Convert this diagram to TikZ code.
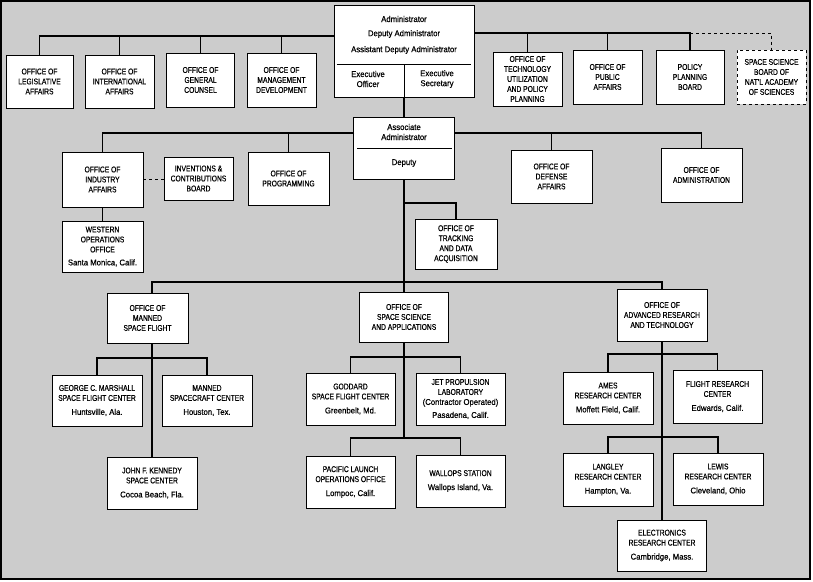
\documentclass[tikz,border=0pt]{standalone}
\usepackage{fontspec}
\setmainfont[FakeStretch=0.8, FakeBold=0.5]{Liberation Sans}
\newfontfamily\placefont[FakeStretch=0.92, FakeBold=0.5]{Liberation Sans}
\definecolor{chartgray}{gray}{0.8}
\tikzset{
  office/.style={draw, fill=white, line width=0.7pt, align=center, inner sep=1pt},
  boxsize/.style 2 args={minimum width=#1, minimum height=#2},
  link/.style={line width=1.5pt},
  advisory/.style={line width=1pt, dashed},
}
\newcommand{\place}[1]{{\placefont #1}}
\begin{document}
\begin{tikzpicture}[x=1pt, y=-1pt, font=\fontsize{8.4}{10}\selectfont]
    \useasboundingbox (0,0) rectangle (813,581);
    \fill[chartgray] (1,1) rectangle (810,579);
    \draw[line width=1.5pt] (1,1) rectangle (810,579);

    % administrator
    \node[office, boxsize={140}{92}] (admin) at (404,51) {};
    \node (adm1) at (404,19) {\place{Administrator}};
    \node (adm2) at (404,34) {\place{Deputy Administrator}};
    \node (adm3) at (404,50) {\place{Assistant Deputy Administrator}};
    \node[align=center] (execO) at (368,79) {\place{Executive}\\\place{Officer}};
    \node[align=center] (execS) at (437,79) {\place{Executive}\\\place{Secretary}};
    \draw[line width=0.6pt] ([xshift=3pt, yshift=-13pt]admin.west) -- ([xshift=-3pt, yshift=-13pt]admin.east);
    \draw[line width=0.6pt] ([yshift=-13pt]admin.center) -- (admin.south);

    % staff offices
    \node[office, boxsize={67}{53}] (legis) at (39.5,81.5) {OFFICE OF\\LEGISLATIVE\\AFFAIRS};
    \node[office, boxsize={69}{53}] (intl) at (119.5,81.5) {OFFICE OF\\INTERNATIONAL\\AFFAIRS};
    \node[office, boxsize={68}{54}] (counsel) at (200.5,80) {OFFICE OF\\GENERAL\\COUNSEL};
    \node[office, boxsize={69}{54}] (mgmt) at (281.5,80) {OFFICE OF\\MANAGEMENT\\DEVELOPMENT};
    \node[office, boxsize={69}{54}] (techutil) at (527.5,79) {OFFICE OF\\TECHNOLOGY\\UTILIZATION\\AND POLICY\\PLANNING};
    \node[office, boxsize={69}{54}] (public) at (607.5,77) {OFFICE OF\\PUBLIC\\AFFAIRS};
    \node[office, boxsize={68}{54}] (policy) at (690,77) {POLICY\\PLANNING\\BOARD};
    \node[office, dashed, boxsize={69}{54}] (ssb) at (771.5,77) {SPACE SCIENCE\\BOARD OF\\NAT'L ACADEMY\\OF SCIENCES};

    % associate administrator
    \node[office, boxsize={101}{62}] (assoc) at (404,148) {};
    \node[align=center] (assoc1) at (404,132) {\place{Associate}\\\place{Administrator}};
    \node (assoc2) at (404,163) {\place{Deputy}};
    \draw[line width=0.6pt] ([xshift=4pt]assoc.west) -- ([xshift=-3pt]assoc.east);

    \node[office, boxsize={81}{55}] (industry) at (102.5,179.5) {OFFICE OF\\INDUSTRY\\AFFAIRS};
    \node[office, boxsize={69}{43}] (invent) at (198.5,178.5) {INVENTIONS \&\\CONTRIBUTIONS\\BOARD};
    \node[office, boxsize={81}{53}] (program) at (288.5,178.5) {OFFICE OF\\PROGRAMMING};
    \node[office, boxsize={81}{51}] (western) at (102.5,246.5) {WESTERN\\OPERATIONS\\OFFICE\\[3pt]\place{Santa Monica, Calif.}};
    \node[office, boxsize={81}{53}] (defense) at (551.5,176.5) {OFFICE OF\\DEFENSE\\AFFAIRS};
    \node[office, boxsize={81}{54}] (admin2) at (701.5,175) {OFFICE OF\\ADMINISTRATION};
    \node[office, boxsize={82}{50}] (tracking) at (456,244) {OFFICE OF\\TRACKING\\AND DATA\\ACQUISITION};

    % program offices
    \node[office, boxsize={81}{50}] (manned) at (147.5,318) {OFFICE OF\\MANNED\\SPACE FLIGHT};
    \node[office, boxsize={89}{50}] (ssa) at (404,317) {OFFICE OF\\SPACE SCIENCE\\AND APPLICATIONS};
    \node[office, boxsize={90}{52}] (oart) at (662,315) {OFFICE OF\\ADVANCED RESEARCH\\AND TECHNOLOGY};

    % field centers
    \node[office, boxsize={90}{51}] (marshall) at (97,400.5) {GEORGE C. MARSHALL\\SPACE FLIGHT CENTER\\[4pt]\place{Huntsville, Ala.}};
    \node[office, boxsize={90}{51}] (msc) at (207,400.5) {MANNED\\SPACECRAFT CENTER\\[4pt]\place{Houston, Tex.}};
    \node[office, boxsize={90}{52}] (kennedy) at (152,483) {JOHN F. KENNEDY\\SPACE CENTER\\[4pt]\place{Cocoa Beach, Fla.}};
    \node[office, boxsize={89}{52}] (goddard) at (350.5,399) {GODDARD\\SPACE FLIGHT CENTER\\[4pt]\place{Greenbelt, Md.}};
    \node[office, boxsize={89}{52}] (jpl) at (460.5,399) {JET PROPULSION\\LABORATORY\\\place{(Contractor Operated)}\\[3pt]\place{Pasadena, Calif.}};
    \node[office, boxsize={89}{52}] (pacific) at (350.5,482) {PACIFIC LAUNCH\\OPERATIONS OFFICE\\[4pt]\place{Lompoc, Calif.}};
    \node[office, boxsize={89}{52}] (wallops) at (460.5,481) {WALLOPS STATION\\[4pt]\place{Wallops Island, Va.}};
    \node[office, boxsize={90}{52}] (ames) at (608,398) {AMES\\RESEARCH CENTER\\[4pt]\place{Moffett Field, Calif.}};
    \node[office, boxsize={89}{53}] (flight) at (717.5,396.5) {FLIGHT RESEARCH\\CENTER\\[4pt]\place{Edwards, Calif.}};
    \node[office, boxsize={90}{53}] (langley) at (608,479.5) {LANGLEY\\RESEARCH CENTER\\[4pt]\place{Hampton, Va.}};
    \node[office, boxsize={90}{52}] (lewis) at (718,479) {LEWIS\\RESEARCH CENTER\\[4pt]\place{Cleveland, Ohio}};
    \node[office, boxsize={89}{51}] (elec) at (662,545.5) {ELECTRONICS\\RESEARCH CENTER\\[4pt]\place{Cambridge, Mass.}};

    % connectors, top
    \coordinate (busTopW) at (334,36);
    \coordinate (busTopE) at (474,33);
    \foreach \n in {legis,intl,counsel,mgmt} \draw[link] (busTopW) -| (\n.north);
    \foreach \n in {techutil,public,policy} \draw[link] (busTopE) -| (\n.north);
    \draw[advisory] (policy.north |- busTopE) -| (ssb.north);
    \draw[link] (admin.south) -- (assoc.north);

    % connectors, associate administrator
    \coordinate (busMidW) at (354,133);
    \coordinate (busMidE) at (455,133);
    \foreach \n in {industry,program} \draw[link] (busMidW) -| (\n.north);
    \foreach \n in {defense,admin2} \draw[link] (busMidE) -| (\n.north);
    \draw[link] (industry.south) -- (western.north);
    \draw[advisory, line width=1.5pt] (industry.east) -- (industry.east -| invent.west);
    \coordinate (trackJoin) at (404,203);
    \draw[link] (trackJoin) -| (tracking.north);

    % connectors, program offices
    \coordinate (busLow) at (404,282);
    \draw[link] (assoc.south) -- (ssa.north);
    \draw[link] (busLow) -| (kennedy.north |- manned.north);
    \draw[link] (busLow) -| (oart.north);

    % connectors, field centers
    \coordinate (mannedJoin) at (152,358);
    \foreach \n in {marshall,msc} \draw[link] (mannedJoin) -| (\n.north);
    \draw[link] (kennedy.north |- manned.south) -- (kennedy.north);
    \coordinate (ssaJoinA) at (404,357);
    \coordinate (ssaJoinB) at (404,438);
    \foreach \n in {goddard,jpl} \draw[link] (ssaJoinA) -| (\n.north);
    \foreach \n in {pacific,wallops} \draw[link] (ssaJoinB) -| (\n.north);
    \draw[link] (ssa.south) -- (ssaJoinB);
    \coordinate (oartJoinA) at (662,354);
    \coordinate (oartJoinB) at (662,437);
    \foreach \n in {ames,flight} \draw[link] (oartJoinA) -| (\n.north);
    \foreach \n in {langley,lewis} \draw[link] (oartJoinB) -| (\n.north);
    \draw[link] (oart.south) -- (elec.north);
\end{tikzpicture}
\end{document}
